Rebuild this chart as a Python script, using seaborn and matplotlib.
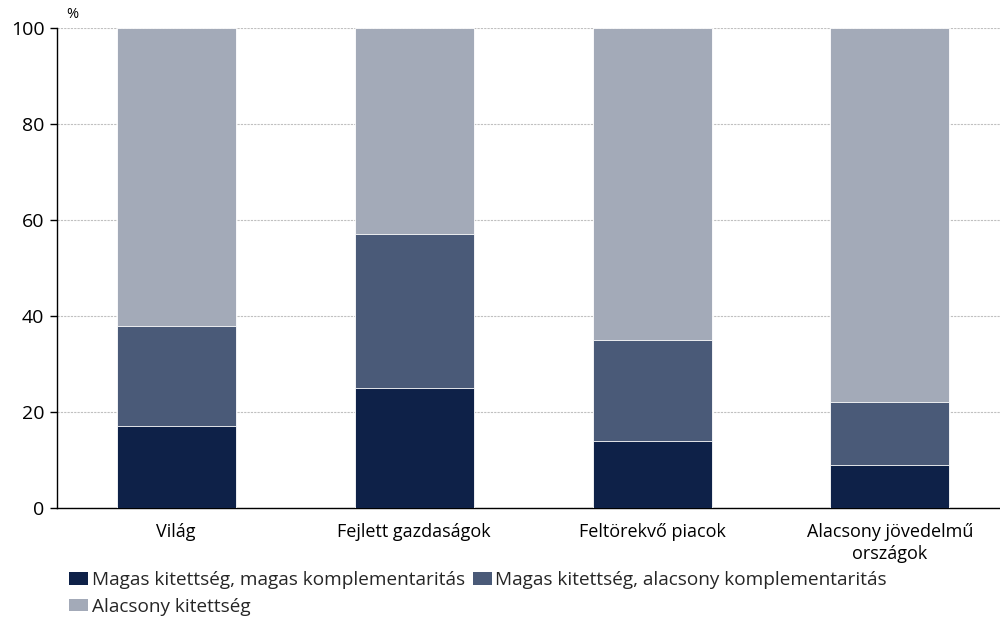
import matplotlib
matplotlib.use("Agg")
import matplotlib.pyplot as plt
import seaborn as sns
import pandas as pd
import numpy as np
from matplotlib.patches import Patch

categories = ["Világ", "Fejlett gazdaságok", "Feltörekvő piacok", "Alacsony jövedelmű\nországok"]
high_high = [17, 25, 14, 9]
high_low = [21, 32, 21, 13]
low_exp = [62, 43, 65, 78]
series_names = ["Magas kitettség, magas komplementaritás",
                "Magas kitettség, alacsony komplementaritás",
                "Alacsony kitettség"]
colors = ["#0e2148", "#4a5a78", "#a3aab8"]
yticks = [0, 20, 40, 60, 80, 100]

sns.set_theme(style="white")
plt.rcParams['font.family'] = ['Open Sans', 'DejaVu Sans']

df = pd.DataFrame({"cat": categories, "a": high_high, "b": high_low, "c": low_exp})
df["cum1"] = df["a"]
df["cum2"] = df["a"] + df["b"]
df["cum3"] = df["a"] + df["b"] + df["c"]

fig = plt.figure(figsize=(10, 6.18), dpi=100)
ax = fig.add_axes([0.057, 1 - 508 / 618, 0.952, 480 / 618])

for col, c in [("cum3", colors[2]), ("cum2", colors[1]), ("cum1", colors[0])]:
    sns.barplot(data=df, x="cat", y=col, color=c, width=0.5, ax=ax,
                edgecolor="white", linewidth=0.6, saturation=1, zorder=3)

ax.set_ylim(0, 100)
ax.set_xlim(-0.5, 3.5)
ax.set_yticks(yticks)
ax.set_xlabel("")
ax.set_ylabel("")
ax.yaxis.grid(True, linestyle=(0, (2, 1)), color="#c0c0c0", linewidth=0.8, zorder=0)
ax.set_axisbelow(True)
for s in ["top", "right"]:
    ax.spines[s].set_visible(False)
for s in ["left", "bottom"]:
    ax.spines[s].set_color("black")
    ax.spines[s].set_linewidth(1.0)
ax.tick_params(axis="y", which="major", left=True, length=5, width=1, color="black",
               labelsize=14, pad=4, labelcolor="black")
ax.tick_params(axis="x", bottom=False, labelsize=13, pad=5, labelcolor="black")
for lbl in ax.get_xticklabels():
    lbl.set_linespacing(1.3)

fig.text(66 / 1000, 1 - 14 / 618, "%", fontsize=10.5, va="center", ha="left", color="black")

handles = [Patch(facecolor=colors[i], edgecolor="none") for i in range(3)]
order = [0, 2, 1]
fig.legend([handles[i] for i in order], [series_names[i] for i in order],
           ncol=2, loc="upper left", bbox_to_anchor=(0.069, 1 - 571 / 618),
           frameon=False, fontsize=13.7, handlelength=1.0, handleheight=0.65,
           handletextpad=0.2, columnspacing=0.4, labelspacing=0.45, borderaxespad=0,
           borderpad=0)

fig.savefig("out.png", dpi=100)
